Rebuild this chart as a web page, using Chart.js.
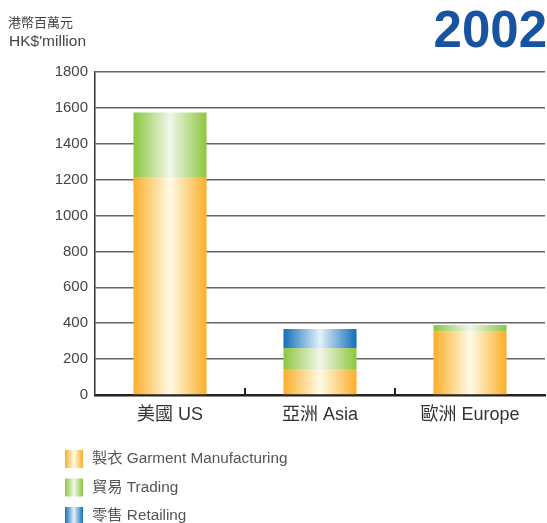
<!DOCTYPE html>
<html><head><meta charset="utf-8">
<script src="https://cdn.jsdelivr.net/npm/chart.js@4/dist/chart.umd.min.js"></script>
<style>html,body{margin:0;padding:0;background:#fff}#wrap{width:547px;height:523px;position:relative}</style>
</head><body><div id="wrap"><canvas id="c" width="547" height="523"></canvas></div>
<script>
const categories = ["美國 US", "亞洲 Asia", "歐洲 Europe"];
const garment = [1215, 145, 353];
const trading = [360, 117, 37];
const retailing = [0, 106, 0];
const seriesLabels = ["製衣 Garment Manufacturing", "貿易 Trading", "零售 Retailing"];
const yTicks = [0, 200, 400, 600, 800, 1000, 1200, 1400, 1600, 1800];
const title = "2002";
const unitLines = ["港幣百萬元", "HK$'million"];

const FONT = "'Liberation Sans', 'Noto Sans CJK TC', sans-serif";
const palette = [
  {edge: '#fbae2a', mid: '#fffbe6'},
  {edge: '#8cc63f', mid: '#f1f6ea'},
  {edge: '#1270b8', mid: '#e2f0fa'}
];
function grad(ctx, x0, x1, p) {
  const g = ctx.createLinearGradient(x0, 0, x1, 0);
  g.addColorStop(0, p.edge); g.addColorStop(0.5, p.mid); g.addColorStop(1, p.edge);
  return g;
}
const gradientPlugin = {
  id: 'grad',
  beforeDatasetsDraw(chart) {
    const ctx = chart.ctx;
    chart.data.datasets.forEach((ds, i) => {
      const meta = chart.getDatasetMeta(i);
      meta.data.forEach(el => {
        const x0 = el.x - el.width / 2, x1 = el.x + el.width / 2;
        el.options = Object.assign({}, el.options, {backgroundColor: grad(ctx, x0, x1, palette[i])});
      });
    });
  },
  afterDraw(chart) {
    const ctx = chart.ctx, xs = chart.scales.x, ys = chart.scales.y;
    ctx.save();
    // separators between categories
    ctx.strokeStyle = '#222'; ctx.lineWidth = 2;
    for (let i = 1; i < categories.length; i++) {
      const x = Math.round((xs.getPixelForValue(i - 1) + xs.getPixelForValue(i)) / 2);
      ctx.beginPath(); ctx.moveTo(x, ys.bottom - 7); ctx.lineTo(x, ys.bottom); ctx.stroke();
    }
    // title
    ctx.fillStyle = '#1753a0'; ctx.font = 'bold 51px ' + FONT;
    ctx.textAlign = 'right'; ctx.textBaseline = 'alphabetic';
    ctx.fillText(title, 547, 47);
    // unit
    ctx.fillStyle = '#444'; ctx.textAlign = 'left';
    ctx.font = '13px ' + FONT; ctx.fillText(unitLines[0], 8, 27);
    ctx.font = '15.5px ' + FONT; ctx.fillText(unitLines[1], 9, 46);
    // legend
    ctx.font = '15.3px ' + FONT; ctx.textBaseline = 'middle'; ctx.fillStyle = '#555';
    seriesLabels.forEach((lab, i) => {
      const cy = 459 + i * 28.5;
      ctx.fillStyle = grad(ctx, 65, 83, palette[i]);
      ctx.fillRect(65, cy - 9, 18, 18);
      ctx.fillStyle = '#555';
      ctx.fillText(lab, 92, cy);
    });
    ctx.restore();
  }
};

new Chart(document.getElementById('c'), {
  type: 'bar',
  data: {
    labels: categories,
    datasets: [
      {label: seriesLabels[0], data: garment, backgroundColor: palette[0].edge, borderWidth: 0},
      {label: seriesLabels[1], data: trading, backgroundColor: palette[1].edge, borderWidth: 0},
      {label: seriesLabels[2], data: retailing, backgroundColor: palette[2].edge, borderWidth: 0}
    ]
  },
  plugins: [gradientPlugin],
  options: {
    responsive: false, animation: false, devicePixelRatio: 1,
    datasets: {bar: {categoryPercentage: 1, barPercentage: 0.487}},
    layout: {padding: {left: 0, right: 2, top: 72, bottom: 0}},
    plugins: {legend: {display: false}, tooltip: {enabled: false}},
    scales: {
      x: {
        stacked: true,
        grid: {display: false},
        border: {display: true, color: '#222', width: 2.5},
        ticks: {color: '#333', font: {family: FONT, size: 18}, padding: 1},
        afterFit(s) { s.height = 128; }
      },
      y: {
        stacked: true, min: 0, max: 1800,
        afterBuildTicks(s) { s.ticks = yTicks.map(v => ({value: v})); },
        grid: {color: '#666', lineWidth: 1.5, drawTicks: false},
        border: {display: true, color: '#333', width: 1.5},
        ticks: {color: '#444', font: {family: FONT, size: 15}, padding: 7, callback: v => String(v)},
        afterFit(s) { s.width = 95; }
      }
    }
  }
});
</script></body></html>
